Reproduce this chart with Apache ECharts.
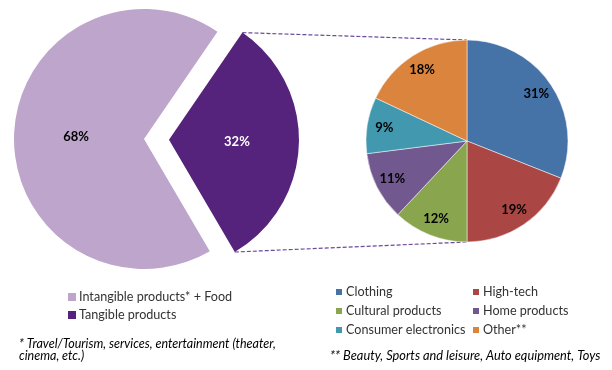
<!DOCTYPE html>
<html><head><meta charset="utf-8">
<script src="https://cdn.jsdelivr.net/npm/echarts@6/dist/echarts.min.js"></script>
<style>html,body{margin:0;padding:0;background:#fff}#c{width:612px;height:370px}</style>
</head><body><div id="c"></div>
<script>
// ---- data ----
const mainCategories = ['Tangible products', 'Intangible products* + Food'];
const mainValues = [32, 68];
const mainColors = ['#56237c', '#bda5cb'];

const subCategories = ['Clothing', 'High-tech', 'Cultural products', 'Home products', 'Consumer electronics', 'Other**'];
const subValues = [31, 19, 12, 11, 9, 18];
const subColors = ['#4572a7', '#aa4643', '#89a54e', '#71588f', '#4198af', '#db843d'];

const footnote1 = ['* Travel/Tourism, services, entertainment (theater,', 'cinema, etc.)'];
const footnote2 = '** Beauty, Sports and leisure, Auto equipment, Toys';

// ---- layout ----
const FONT = 'Lato';
const L = {cx: 144, cy: 139, r: 130, offset: 25, start: 55.6};
const R = {cx: 467, cy: 141, r: 101};

const mainTotal = mainValues.reduce((a, b) => a + b, 0);
const tangibleSpan = mainValues[0] / mainTotal * 360;
const midA = (L.start - tangibleSpan / 2) * Math.PI / 180;
const ox = L.cx + L.offset * Math.cos(midA), oy = L.cy - L.offset * Math.sin(midA);
const a1 = L.start * Math.PI / 180, a2 = (L.start - tangibleSpan) * Math.PI / 180;
const p1 = [ox + L.r * Math.cos(a1), oy - L.r * Math.sin(a1)];
const p2 = [ox + L.r * Math.cos(a2), oy - L.r * Math.sin(a2)];

const chart = echarts.init(document.getElementById('c'), null, {renderer: 'canvas'});
const labelStyle = {fontFamily: FONT, fontSize: 13, fontWeight: 'bold'};
const legendText = {fontFamily: FONT, fontSize: 12.6, color: '#333', lineHeight: 14, padding: [0, 0, 0, -2]};

chart.setOption({
  animation: false,
  series: [
    {
      type: 'pie', center: [L.cx, L.cy], radius: [0, L.r], startAngle: L.start, clockwise: true,
      selectedMode: 'single', selectedOffset: L.offset,
      label: {show: true, position: 'inside', formatter: '{c}%', ...labelStyle},
      labelLine: {show: false},
      emphasis: {disabled: true}, select: {itemStyle: {}},
      data: mainCategories.map((n, i) => ({
        name: n, value: mainValues[i], selected: i === 0,
        itemStyle: {color: mainColors[i]},
        label: {color: i === 0 ? '#ffffff' : '#000000'}
      }))
    },
    {
      type: 'pie', center: [R.cx, R.cy], radius: [0, R.r], startAngle: 90, clockwise: true,
      label: {show: false}, labelLine: {show: false}, emphasis: {disabled: true},
      itemStyle: {borderColor: '#ffffff', borderWidth: 0.5},
      data: subCategories.map((n, i) => ({name: n, value: subValues[i], itemStyle: {color: subColors[i]}}))
    },
    {
      type: 'pie', center: [R.cx, R.cy], radius: [0, R.r * 1.6], startAngle: 90, clockwise: true, silent: true,
      label: {show: true, position: 'inside', formatter: '{c}%', color: '#000', ...labelStyle},
      labelLine: {show: false}, emphasis: {disabled: true},
      itemStyle: {color: 'rgba(0,0,0,0)'},
      data: subCategories.map((n, i) => ({name: n, value: subValues[i]}))
    }
  ],
  legend: [
    {
      orient: 'vertical', left: 63, top: 285, itemWidth: 8, itemHeight: 8, itemGap: 4, icon: 'rect',
      data: mainCategories.slice().reverse(), selectedMode: false, textStyle: legendText
    },
    {
      orient: 'vertical', left: 329, top: 280, itemWidth: 8, itemHeight: 8, itemGap: 5, icon: 'rect',
      data: [subCategories[0], subCategories[2], subCategories[4]], selectedMode: false, textStyle: legendText
    },
    {
      orient: 'vertical', left: 466, top: 280, itemWidth: 8, itemHeight: 8, itemGap: 5, icon: 'rect',
      data: [subCategories[1], subCategories[3], subCategories[5]], selectedMode: false, textStyle: legendText
    }
  ],
  graphic: [
    {type: 'line', shape: {x1: p1[0], y1: p1[1], x2: R.cx, y2: R.cy - R.r},
     style: {stroke: '#6a4a9a', lineWidth: 1.2, lineDash: [4, 2]}, silent: true},
    {type: 'line', shape: {x1: p2[0], y1: p2[1], x2: R.cx, y2: R.cy + R.r},
     style: {stroke: '#6a4a9a', lineWidth: 1.2, lineDash: [4, 2]}, silent: true},
    {type: 'text', left: 19, top: 337,
     style: {text: footnote1.join('\n'), fontFamily: FONT, fontSize: 12.5, fontStyle: 'italic', fill: '#000', lineHeight: 12}},
    {type: 'text', left: 330, top: 349,
     style: {text: footnote2, fontFamily: FONT, fontSize: 12.8, fontStyle: 'italic', fill: '#000'}}
  ]
});
</script></body></html>
